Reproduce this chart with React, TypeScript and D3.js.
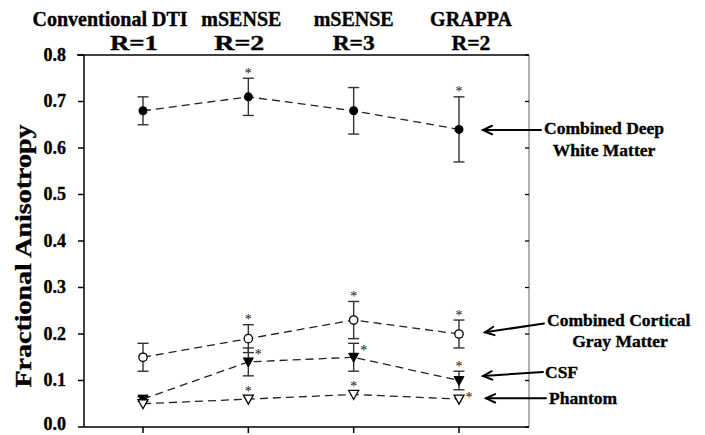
import React from 'react';
import * as d3 from 'd3';

const categories = ['Conventional DTI', 'mSENSE', 'mSENSE', 'GRAPPA'];
const factors = ['R=1', 'R=2', 'R=3', 'R=2'];
const yTicks = [0.0, 0.1, 0.2, 0.3, 0.4, 0.5, 0.6, 0.7, 0.8];

const wmValues = [0.68, 0.71, 0.68, 0.64];
const wmErrors = [0.03, 0.04, 0.05, 0.07];
const wmStars = ['', 'top', '', 'top'];

const gmValues = [0.15, 0.19, 0.23, 0.20];
const gmErrors = [0.03, 0.03, 0.04, 0.03];
const gmStars = ['', 'top', 'top', 'top'];

const csfValues = [0.06, 0.14, 0.15, 0.10];
const csfErrors = [0.005, 0.03, 0.03, 0.02];
const csfStars = ['', 'right', 'right', 'top'];

const phValues = [0.05, 0.06, 0.07, 0.06];
const phErrors = [0, 0, 0, 0];
const phStars = ['', 'top', 'top', 'right'];

const FONT = 'Liberation Serif, Times New Roman, serif';
const boldText = {
  fontFamily: FONT,
  fontWeight: 700 as const,
  stroke: '#000',
  strokeWidth: 0.35,
  fill: '#000',
};

type Series = {
  values: number[];
  errors: number[];
  stars: string[];
  marker: 'circleFilled' | 'circleOpen' | 'triFilled' | 'triOpen';
};

const series: Series[] = [
  { values: wmValues, errors: wmErrors, stars: wmStars, marker: 'circleFilled' },
  { values: gmValues, errors: gmErrors, stars: gmStars, marker: 'circleOpen' },
  { values: csfValues, errors: csfErrors, stars: csfStars, marker: 'triFilled' },
  { values: phValues, errors: phErrors, stars: phStars, marker: 'triOpen' },
];

function Arrow({ x1, y1, x2, y2 }: { x1: number; y1: number; x2: number; y2: number }) {
  const ang = Math.atan2(y1 - y2, x1 - x2);
  const L = 10;
  const a = (25 * Math.PI) / 180;
  const p1 = [x2 + L * Math.cos(ang + a), y2 + L * Math.sin(ang + a)];
  const p2 = [x2 + L * Math.cos(ang - a), y2 + L * Math.sin(ang - a)];
  return (
    <g stroke="#000" strokeWidth={2} fill="none" strokeLinecap="round">
      <line x1={x1} y1={y1} x2={x2} y2={y2} />
      <polyline points={`${p1[0]},${p1[1]} ${x2},${y2} ${p2[0]},${p2[1]}`} />
    </g>
  );
}

export default function App() {
  const W = 705;
  const H = 435;
  const left = 84;
  const right = 529;
  const x = d3.scaleLinear().domain([1, 4]).range([143, 459]);
  const y = d3.scaleLinear().domain([0, 0.8]).range([427, 55]);
  const idx = categories.map((_, i) => i + 1);

  const line = d3
    .line<number>()
    .x((_, i) => x(i + 1))
    .y((d) => y(d));

  const line1Off = [-33, -7, 0, 12];
  const line2Off = [-9, -9, 0, 12];
  const line2Len = [48, 50, 42, 39];

  const marker = (m: Series['marker'], cx: number, cy: number, key: string) => {
    if (m === 'circleFilled') return <circle key={key} cx={cx} cy={cy} r={4.5} fill="#000" />;
    if (m === 'circleOpen')
      return <circle key={key} cx={cx} cy={cy} r={4.2} fill="#fff" stroke="#000" strokeWidth={1.3} />;
    const pts = `${cx - 5},${cy - 4} ${cx + 5},${cy - 4} ${cx},${cy + 5}`;
    if (m === 'triFilled') return <polygon key={key} points={pts} fill="#000" stroke="#000" strokeWidth={1} />;
    return <polygon key={key} points={pts} fill="#fff" stroke="#000" strokeWidth={1.3} />;
  };

  return (
    <svg width={W} height={H} style={{ position: 'absolute', left: 0, top: 0, background: '#fff' }}>
      <rect width={W} height={H} fill="#fff" />

      {/* top labels */}
      {categories.map((c, i) => (
        <text key={'c' + i} x={x(i + 1) + line1Off[i]} y={26} textAnchor="middle" fontSize={20} style={boldText}>
          {c}
        </text>
      ))}
      {factors.map((f, i) => (
        <text
          key={'f' + i}
          x={x(i + 1) + line2Off[i]}
          y={50}
          textAnchor="middle"
          fontSize={21}
          textLength={line2Len[i]}
          lengthAdjust="spacingAndGlyphs"
          style={boldText}
        >
          {f}
        </text>
      ))}

      {/* frame */}
      <line x1={left - 7} x2={right} y1={y(0.8)} y2={y(0.8)} stroke="#000" strokeWidth={1.5} />
      <line x1={right} x2={right} y1={y(0.8)} y2={y(0)} stroke="#888" strokeWidth={1.3} />
      <line x1={left} x2={left} y1={y(0.8)} y2={y(0)} stroke="#000" strokeWidth={1.5} />
      <line x1={left} x2={right} y1={y(0)} y2={y(0)} stroke="#000" strokeWidth={1.5} />

      {/* y ticks */}
      {yTicks.map((t) => (
        <g key={'t' + t}>
          <line x1={left - 6} x2={left} y1={y(t)} y2={y(t)} stroke="#000" strokeWidth={1.5} />
          <line x1={right - 4} x2={right} y1={y(t)} y2={y(t)} stroke="#000" strokeWidth={1.3} />
          <text x={66} y={Math.min(y(t), 424)} dy="0.33em" textAnchor="end" fontSize={18} style={boldText}>
            {t.toFixed(1)}
          </text>
        </g>
      ))}

      {/* x ticks */}
      {idx.map((i) => (
        <line key={'xt' + i} x1={x(i)} x2={x(i)} y1={y(0)} y2={y(0) + 6} stroke="#000" strokeWidth={1.5} />
      ))}

      {/* y title */}
      <text
        transform={`translate(31,${(y(0) + y(0.8)) / 2 + 15}) rotate(-90)`}
        textAnchor="middle"
        fontSize={23}
        textLength={263}
        lengthAdjust="spacingAndGlyphs"
        style={boldText}
      >
        Fractional Anisotropy
      </text>

      {/* series lines */}
      {series.map((s, si) => (
        <path
          key={'l' + si}
          d={line(s.values) || ''}
          fill="none"
          stroke="#222"
          strokeWidth={1.3}
          strokeDasharray="8,5"
        />
      ))}

      {/* error bars */}
      {series.map((s, si) =>
        s.values.map((v, i) =>
          s.errors[i] > 0 ? (
            <g key={`e${si}-${i}`} stroke="#333" strokeWidth={1.4}>
              <line x1={x(i + 1)} x2={x(i + 1)} y1={y(v - s.errors[i])} y2={y(v + s.errors[i])} />
              <line x1={x(i + 1) - 5.5} x2={x(i + 1) + 5.5} y1={y(v + s.errors[i])} y2={y(v + s.errors[i])} />
              <line x1={x(i + 1) - 5.5} x2={x(i + 1) + 5.5} y1={y(v - s.errors[i])} y2={y(v - s.errors[i])} />
            </g>
          ) : null
        )
      )}

      {/* markers */}
      {series.map((s, si) => s.values.map((v, i) => marker(s.marker, x(i + 1), y(v), `m${si}-${i}`)))}

      {/* asterisks */}
      <g opacity={0.99}>
        {series.map((s, si) =>
          s.values.map((v, i) => {
            if (!s.stars[i]) return null;
            let cx = x(i + 1);
            let cy: number;
            if (s.stars[i] === 'top') {
              cy = y(v + s.errors[i]) - (s.errors[i] > 0 ? 7 : 10);
            } else {
              cx += 10;
              cy = y(v) - (si === 3 ? 4 : 9);
            }
            return (
              <text
                key={`s${si}-${i}`}
                x={cx}
                y={cy + 6.5}
                textAnchor="middle"
                fontSize={14}
                fill="#111"
                style={{ fontFamily: FONT }}
              >
                *
              </text>
            );
          })
        )}
      </g>

      {/* annotations */}
      <Arrow x1={541} y1={130} x2={483} y2={130} />
      <text x={544} y={134} fontSize={17.5} style={boldText}>Combined Deep</text>
      <text x={604} y={156} fontSize={17.5} textAnchor="middle" style={boldText}>White Matter</text>

      <Arrow x1={544} y1={323.5} x2={485} y2={332.3} />
      <text x={547} y={326} fontSize={17.5} style={boldText}>Combined Cortical</text>
      <text x={620} y={347} fontSize={17.5} textAnchor="middle" style={boldText}>Gray Matter</text>

      <Arrow x1={543} y1={372} x2={483} y2={376} />
      <text x={545} y={377.5} fontSize={17.5} style={boldText}>CSF</text>

      <Arrow x1={546} y1={398.3} x2={486} y2={398.3} />
      <text x={549} y={404} fontSize={17.5} style={boldText}>Phantom</text>
    </svg>
  );
}
